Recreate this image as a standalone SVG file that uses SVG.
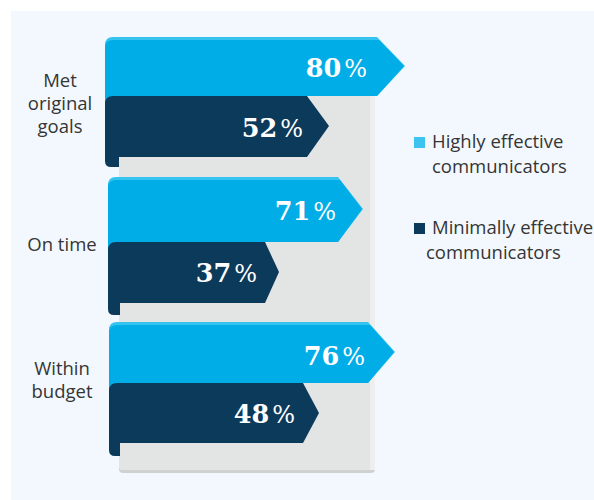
<svg xmlns="http://www.w3.org/2000/svg" width="594" height="500" viewBox="0 0 594 500">
<style>
.lbl{font-family:"Open Sans","Noto Sans",sans-serif;font-size:18.5px;fill:#353535;text-anchor:middle}
.leg{font-family:"Open Sans","Noto Sans",sans-serif;font-size:18.5px;fill:#353535}
.pct{font-family:"DejaVu Serif","Liberation Serif",serif;font-weight:bold;font-size:25.5px;fill:#ffffff;text-anchor:end}
.pc{font-weight:normal;font-size:24px}
.hi{fill:#35c3f0}
.blue{fill:#00ade6}
.dark{fill:#0b3a5b}
</style>
<rect x="0" y="0" width="594" height="500" fill="#ffffff"/>
<rect x="11" y="11" width="583" height="489" fill="#f3f8fe"/>
<g id="panel">
<rect x="119" y="40" width="256" height="433" rx="4" fill="#cfd0d0"/>
<rect x="119" y="40" width="256" height="430" rx="3" fill="#e3e4e4"/>
<rect x="370" y="40" width="5" height="430" fill="#eeeeee"/>
</g>
<g id="row-goals">
<text class="lbl" x="60" y="87">Met</text>
<text class="lbl" x="60" y="110">original</text>
<text class="lbl" x="60" y="133">goals</text>
<g id="bar-goals-high">
<rect x="105" y="88" width="14" height="20" class="blue"/>
<path class="hi" d="M105,45 Q105,37 113,37 L377,37 L405,66 L377,96 L105,96 Z"/>
<path class="blue" d="M105,48 Q105,40 113,40 L379,40 L404,66 L377,96 L105,96 Z"/>
<text class="pct" x="367" y="77">80<tspan class="pc" dx="3">%</tspan></text>
</g>
<g id="bar-goals-min">
<path class="dark" d="M105,104 Q105,96 113,96 L307,96 L329,126 L307,157 L119,157 L119,167 L111,167 Q105,167 105,161 Z"/>
<text class="pct" x="303" y="137">52<tspan class="pc" dx="3">%</tspan></text>
</g>
</g>
<g id="row-time">
<text class="lbl" x="62" y="251">On time</text>
<g id="bar-time-high">
<rect x="108" y="234" width="14" height="20" class="blue"/>
<path class="hi" d="M108,185 Q108,177 116,177 L338,177 L363,209 L338,242 L108,242 Z"/>
<path class="blue" d="M108,188 Q108,180 116,180 L340,180 L362,209 L338,242 L108,242 Z"/>
<text class="pct" x="336" y="220">71<tspan class="pc" dx="3">%</tspan></text>
</g>
<g id="bar-time-min">
<path class="dark" d="M108,250 Q108,242 116,242 L265,242 L279,272 L265,303 L120,303 L120,315 L114,315 Q108,315 108,309 Z"/>
<text class="pct" x="257" y="282">37<tspan class="pc" dx="3">%</tspan></text>
</g>
</g>
<g id="row-budget">
<text class="lbl" x="62" y="375">Within</text>
<text class="lbl" x="62" y="398">budget</text>
<g id="bar-budget-high">
<rect x="109" y="375" width="14" height="20" class="blue"/>
<path class="hi" d="M109,330 Q109,322 117,322 L368,322 L395,352 L368,383 L109,383 Z"/>
<path class="blue" d="M109,333 Q109,325 117,325 L370,325 L394,352 L368,383 L109,383 Z"/>
<text class="pct" x="365" y="365">76<tspan class="pc" dx="3">%</tspan></text>
</g>
<g id="bar-budget-min">
<path class="dark" d="M109,391 Q109,383 117,383 L303,383 L319,413 L303,443 L120,443 L120,456 L115,456 Q109,456 109,450 Z"/>
<text class="pct" x="295" y="423">48<tspan class="pc" dx="3">%</tspan></text>
</g>
</g>
<g id="legend">
<g id="legend-high">
<rect x="414" y="137" width="11" height="11" fill="#3cc3ef"/>
<text class="leg" x="432" y="148">Highly effective</text>
<text class="leg" x="432" y="173">communicators</text>
</g>
<g id="legend-min">
<rect x="414" y="223" width="11" height="11" fill="#0b3a5b"/>
<text class="leg" x="432" y="234">Minimally effective</text>
<text class="leg" x="426" y="259">communicators</text>
</g>
</g>
<g id="connectors"/>
</svg>
